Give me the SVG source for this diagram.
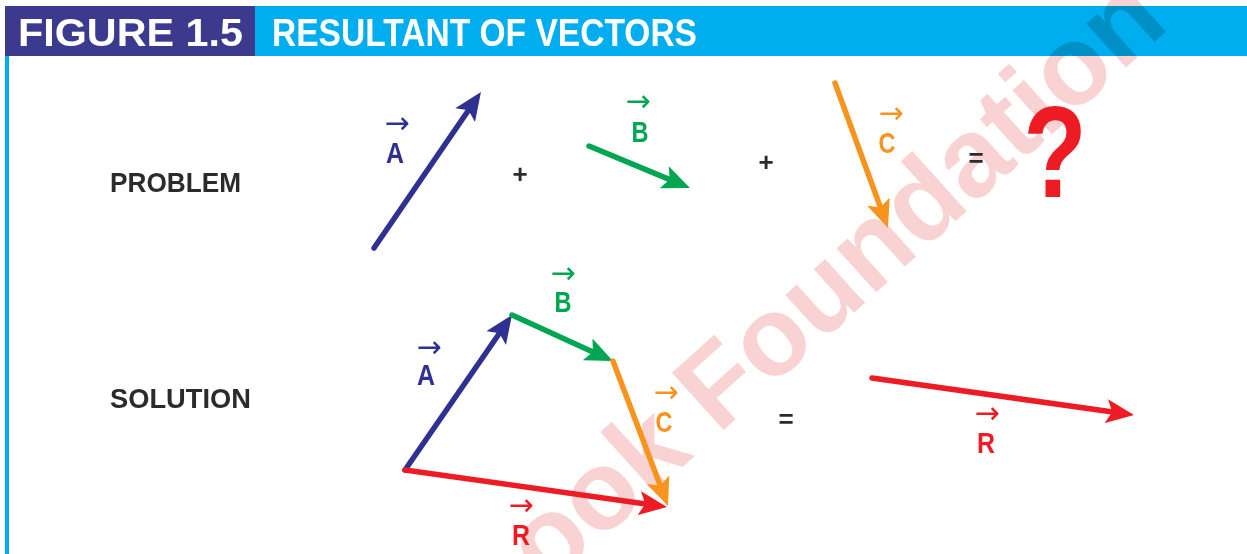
<svg xmlns="http://www.w3.org/2000/svg" width="1247" height="554" viewBox="0 0 1247 554">
  <style>
    .hdr { font-family: "Liberation Sans", Arial, sans-serif; font-weight: bold; font-size: 38px; fill: #ffffff; }
    .row { font-family: "Liberation Sans", Arial, sans-serif; font-weight: bold; font-size: 28px; fill: #2b2b2b; }
    .op { font-family: "Liberation Sans", Arial, sans-serif; font-weight: bold; font-size: 26px; fill: #2b2b2b; text-anchor: middle; }
    .lbl { text-anchor: middle; }
    .lt { font-family: "Liberation Sans", Arial, sans-serif; font-weight: bold; font-size: 30px; }
    .vec { font-family: "DejaVu Sans", sans-serif; font-weight: normal; font-size: 30px; }
    .blue { fill: #2e3192; } .green { fill: #00a651; } .orange { fill: #f7941d; } .red { fill: #ed1c24; }
    .v { fill: none; stroke-width: 5.5; stroke-linecap: round; }
    .vb { stroke: #2e3192; marker-end: url(#mb); }
    .vg { stroke: #00a651; marker-end: url(#mg); }
    .vo { stroke: #f7941d; marker-end: url(#mo); }
    .vr { stroke: #ed1c24; marker-end: url(#mr); }
    .wm { font-family: "Liberation Sans", Arial, sans-serif; font-weight: bold; font-size: 112px; fill: #f9d3d3; mix-blend-mode: multiply; }
  </style>
  <defs>
    <marker id="mb" viewBox="0 0 28 24" markerUnits="userSpaceOnUse" markerWidth="28" markerHeight="24" refX="12" refY="12" orient="auto"><path d="M0,0 L28,12 L0,24 L6,12 z" fill="#2e3192"/></marker>
    <marker id="mg" viewBox="0 0 28 24" markerUnits="userSpaceOnUse" markerWidth="28" markerHeight="24" refX="12" refY="12" orient="auto"><path d="M0,0 L28,12 L0,24 L6,12 z" fill="#00a651"/></marker>
    <marker id="mo" viewBox="0 0 28 24" markerUnits="userSpaceOnUse" markerWidth="28" markerHeight="24" refX="12" refY="12" orient="auto"><path d="M0,0 L28,12 L0,24 L6,12 z" fill="#f7941d"/></marker>
    <marker id="mr" viewBox="0 0 28 24" markerUnits="userSpaceOnUse" markerWidth="28" markerHeight="24" refX="12" refY="12" orient="auto"><path d="M0,0 L28,12 L0,24 L6,12 z" fill="#ed1c24"/></marker>
  </defs>
  <rect x="0" y="0" width="1247" height="554" fill="#ffffff"/>

  <g id="header">
    <rect x="5" y="6" width="1242" height="50" fill="#00aeef"/>
    <rect x="5" y="6" width="250" height="50" fill="#3b3a8f"/>
    <rect x="5" y="56" width="4" height="498" fill="#00aeef"/>
    <text class="hdr" x="18" y="46" textLength="225" lengthAdjust="spacingAndGlyphs">FIGURE 1.5</text>
    <text class="hdr" x="272" y="46" textLength="425" lengthAdjust="spacingAndGlyphs">RESULTANT OF VECTORS</text>
  </g>

  <g id="watermark">
    <text class="wm" transform="translate(547,589) rotate(-42)">ook Foundation</text>
  </g>

  <g id="row-labels">
    <text class="row" x="110" y="192" textLength="131" lengthAdjust="spacingAndGlyphs">PROBLEM</text>
    <text class="row" x="110" y="408" textLength="141" lengthAdjust="spacingAndGlyphs">SOLUTION</text>
  </g>

  <g id="operators">
    <text class="op" x="520" y="183">+</text>
    <text class="op" x="766" y="171">+</text>
    <text class="op" x="976" y="167">=</text>
    <text class="op" x="786" y="428" font-weight="normal">=</text>
    <text x="1055" y="197" font-family="Liberation Sans, Arial, sans-serif" font-weight="bold" font-size="130" fill="#ed1c24" text-anchor="middle" transform="translate(1055,0) scale(0.8,1) translate(-1055,0)">?</text>
  </g>

  <g id="connectors">
    <line class="v vb" x1="374" y1="248" x2="471.9" y2="105.2"/>
    <line class="v vg" x1="589" y1="146" x2="675.2" y2="181.9"/>
    <line class="v vo" x1="835" y1="83" x2="882.5" y2="213"/>
    <line class="v vb" x1="405" y1="470" x2="502.9" y2="328.2"/>
    <line class="v vg" x1="512" y1="315" x2="598.4" y2="354.4"/>
    <line class="v vo" x1="613" y1="361" x2="662.3" y2="491"/>
    <line class="v vr" x1="405" y1="470" x2="651.2" y2="504.8"/>
    <line class="v vr" x1="872" y1="378" x2="1118.2" y2="412.8"/>
  </g>

  <g id="label-pA"><text class="lbl blue"><tspan class="vec" x="397" y="133">→</tspan><tspan class="lt" x="395" y="163" textLength="18" lengthAdjust="spacingAndGlyphs">A</tspan></text></g>
  <g id="label-pB"><text class="lbl green"><tspan class="vec" x="638" y="111">→</tspan><tspan class="lt" x="640" y="142" textLength="17" lengthAdjust="spacingAndGlyphs">B</tspan></text></g>
  <g id="label-pC"><text class="lbl orange"><tspan class="vec" x="891" y="123">→</tspan><tspan class="lt" x="887" y="153" textLength="17" lengthAdjust="spacingAndGlyphs">C</tspan></text></g>
  <g id="label-sA"><text class="lbl blue"><tspan class="vec" x="429" y="357">→</tspan><tspan class="lt" x="426" y="385" textLength="18" lengthAdjust="spacingAndGlyphs">A</tspan></text></g>
  <g id="label-sB"><text class="lbl green"><tspan class="vec" x="563" y="283">→</tspan><tspan class="lt" x="563" y="312" textLength="17" lengthAdjust="spacingAndGlyphs">B</tspan></text></g>
  <g id="label-sC"><text class="lbl orange"><tspan class="vec" x="666" y="402">→</tspan><tspan class="lt" x="664" y="432" textLength="17" lengthAdjust="spacingAndGlyphs">C</tspan></text></g>
  <g id="label-sR"><text class="lbl red"><tspan class="vec" x="521" y="515">→</tspan><tspan class="lt" x="521" y="545" textLength="18" lengthAdjust="spacingAndGlyphs">R</tspan></text></g>
  <g id="label-R"><text class="lbl red"><tspan class="vec" x="987" y="423">→</tspan><tspan class="lt" x="986" y="453" textLength="18" lengthAdjust="spacingAndGlyphs">R</tspan></text></g>
</svg>
